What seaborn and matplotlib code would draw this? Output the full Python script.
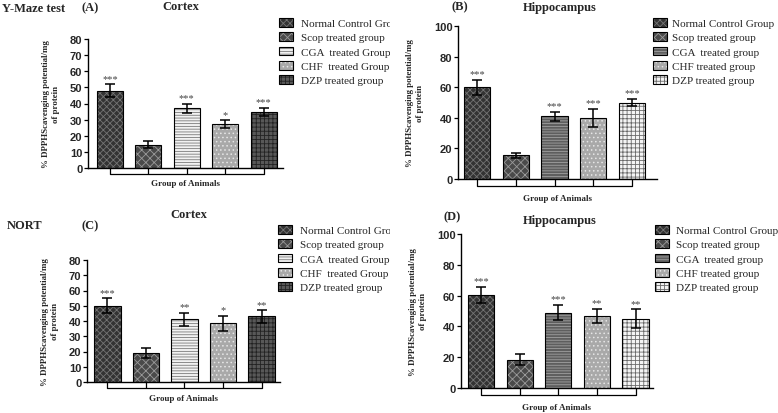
import numpy as np
import pandas as pd
import matplotlib
matplotlib.use("Agg")
import matplotlib.pyplot as plt
import seaborn as sns
from matplotlib.colors import to_rgba
from matplotlib.transforms import Bbox, TransformedBbox, ScaledTranslation

sns.set_theme(style="ticks")
plt.rcParams['font.family'] = ['Liberation Serif', 'DejaVu Serif']
plt.rcParams['hatch.linewidth'] = 0.6

# ---------------- data ----------------
labels_ac = ["Normal Control Group", "Scop treated group", "CGA  treated Group",
             "CHF  treated Group", "DZP treated group"]
labels_bd = ["Normal Control Group", "Scop treated group", "CGA  treated group",
             "CHF treated group", "DZP treated group"]

a_means = [48, 14.5, 37, 27, 35]
a_errs = [4, 2, 3, 2.5, 2.5]
a_stars = ["***", "", "***", "*", "***"]

b_means = [60, 15.5, 41, 40, 50]
b_errs = [5, 1.5, 2.8, 6, 2.5]
b_stars = ["***", "", "***", "***", "***"]

c_means = [50, 19, 41, 38.5, 43]
c_errs = [5, 3, 4.5, 5, 4]
c_stars = ["***", "", "**", "*", "**"]

d_means = [60.5, 18.5, 49, 47, 45]
d_errs = [5, 3.5, 5, 4.5, 6]
d_stars = ["***", "", "***", "**", "**"]

# fill, hatch, hatch colour
styles_ac = [("#333333", "xxxxx", "#747474"),
             ("#4a4a4a", "xxxx", "#9a9a9a"),
             ("#f2f2f2", "------", "#7a7a7a"),
             ("#a9a9a9", "....", "#e6e6e6"),
             ("#585858", "++++", "#222222")]
styles_bd = [("#333333", "xxxxx", "#747474"),
             ("#4a4a4a", "xxxx", "#9a9a9a"),
             ("#5e5e5e", "------", "#a0a0a0"),
             ("#a9a9a9", "....", "#e6e6e6"),
             ("#f4f4f4", "++++", "#6a6a6a")]

W, H = 778, 414
fig = plt.figure(figsize=(W / 100, H / 100), dpi=100)
fig.patch.set_facecolor("white")


def px_rect(left, right, top, bottom):
    return [left / W, 1 - bottom / H, (right - left) / W, (bottom - top) / H]


def panel(rect, labels, means, errs, stars, styles, ymax, ystep, xlim,
          bracket_pt, xlab_pad, leg_xy, leg_textpad, clip_right=None):
    ax = fig.add_axes(rect)
    df = pd.DataFrame({"group": labels, "value": means})
    sns.barplot(data=df, x="group", y="value", hue="group", order=labels,
                hue_order=labels, palette=[s[0] for s in styles],
                errorbar=None, width=0.68, legend=False, ax=ax,
                edgecolor="black", linewidth=0.8, saturation=1)
    bars = [p for p in ax.patches][:5]
    for bar, (fc, hatch, hc) in zip(bars, styles):
        bar.set_hatch(hatch)
        bar._hatch_color = to_rgba(hc)
    ax.errorbar(range(5), means, yerr=errs, fmt="none", ecolor="black",
                elinewidth=1.1, capsize=3.6, capthick=1.1, zorder=5)
    for i, (m, e, s) in enumerate(zip(means, errs, stars)):
        if s:
            ax.text(i, m + e + ymax * 0.01, s, ha="center", va="bottom",
                    fontsize=7.5, color="#444444")
    ax.set_ylim(0, ymax)
    ax.set_yticks(np.arange(0, ymax + 1, ystep))
    ax.set_xlim(*xlim)
    ax.set_xticks(range(5))
    ax.set_xticklabels([])
    ax.tick_params(axis="x", length=bracket_pt, width=0.9, direction="out",
                   color="black", pad=3.5)
    ax.tick_params(axis="y", length=3, width=0.9, pad=1, labelsize=8, color="black")
    for lab in ax.get_yticklabels():
        lab.set_fontfamily("Liberation Sans")
        lab.set_fontweight("bold")
    sns.despine(ax=ax)
    for sp in ("left", "bottom"):
        ax.spines[sp].set_linewidth(1.0)
        ax.spines[sp].set_color("black")
    # group bracket below the axis
    tr = ax.get_xaxis_transform() + ScaledTranslation(0, -bracket_pt / 72, fig.dpi_scale_trans)
    ax.plot([0, 4], [0, 0], transform=tr, color="black", lw=0.9, clip_on=False)
    ax.set_xlabel("Group of Animals", fontsize=6.5, fontweight="bold",
                  labelpad=xlab_pad)
    ax.set_ylabel("% DPPHScavenging potential/mg\nof protein", fontsize=6.4,
                  fontweight="bold", labelpad=7, linespacing=1.3)
    leg = ax.legend(handles=bars, labels=labels, loc="upper left",
                    bbox_to_anchor=(leg_xy[0] / W, 1 - leg_xy[1] / H),
                    bbox_transform=fig.transFigure, frameon=False,
                    borderpad=0, borderaxespad=0, fontsize=8,
                    handlelength=1.25, handleheight=0.8,
                    handletextpad=leg_textpad, labelspacing=0.38)
    if clip_right is not None:
        cb = TransformedBbox(Bbox([[0, 0], [clip_right / W, 1]]), fig.transFigure)
        for t in leg.get_texts():
            t.set_clip_box(cb)
            t.set_clip_on(True)
    return ax


panel(px_rect(88, 283, 40, 169), labels_ac, a_means, a_errs, a_stars, styles_ac,
      80, 10, (-0.57, 4.5), 4.0, 0.5, (279, 19), 0.7, clip_right=390)
panel(px_rect(458, 657, 27, 180), labels_bd, b_means, b_errs, b_stars, styles_bd,
      100, 20, (-0.5, 4.65), 5.0, 2.5, (653, 19), 0.5)
panel(px_rect(87, 280, 261, 383), labels_ac, c_means, c_errs, c_stars, styles_ac,
      80, 10, (-0.53, 4.48), 4.3, 1.2, (278, 226), 0.7, clip_right=390)
panel(px_rect(461, 653, 235, 389), labels_bd, d_means, d_errs, d_stars, styles_bd,
      100, 20, (-0.52, 4.45), 5.0, 2.5, (655, 226), 0.6)

def ftext(x, y, s, size=9, ha="left"):
    fig.text(x / W, 1 - y / H, s, ha=ha, va="center", fontsize=size, fontweight="bold")

ftext(2, 9, "Y-Maze test", 9)
ftext(82, 8, "(A)", 9)
ftext(181, 7, "Cortex", 9, ha="center")
ftext(452, 7, "(B)", 9)
ftext(560, 8, "Hippocampus", 9, ha="center")
ftext(7, 226, "NORT", 9)
ftext(82, 226, "(C)", 9)
ftext(189, 215, "Cortex", 9, ha="center")
ftext(443, 217, "(D)", 9)
ftext(560, 221, "Hippocampus", 9, ha="center")

fig.savefig("out.png", dpi=100, facecolor="white")
